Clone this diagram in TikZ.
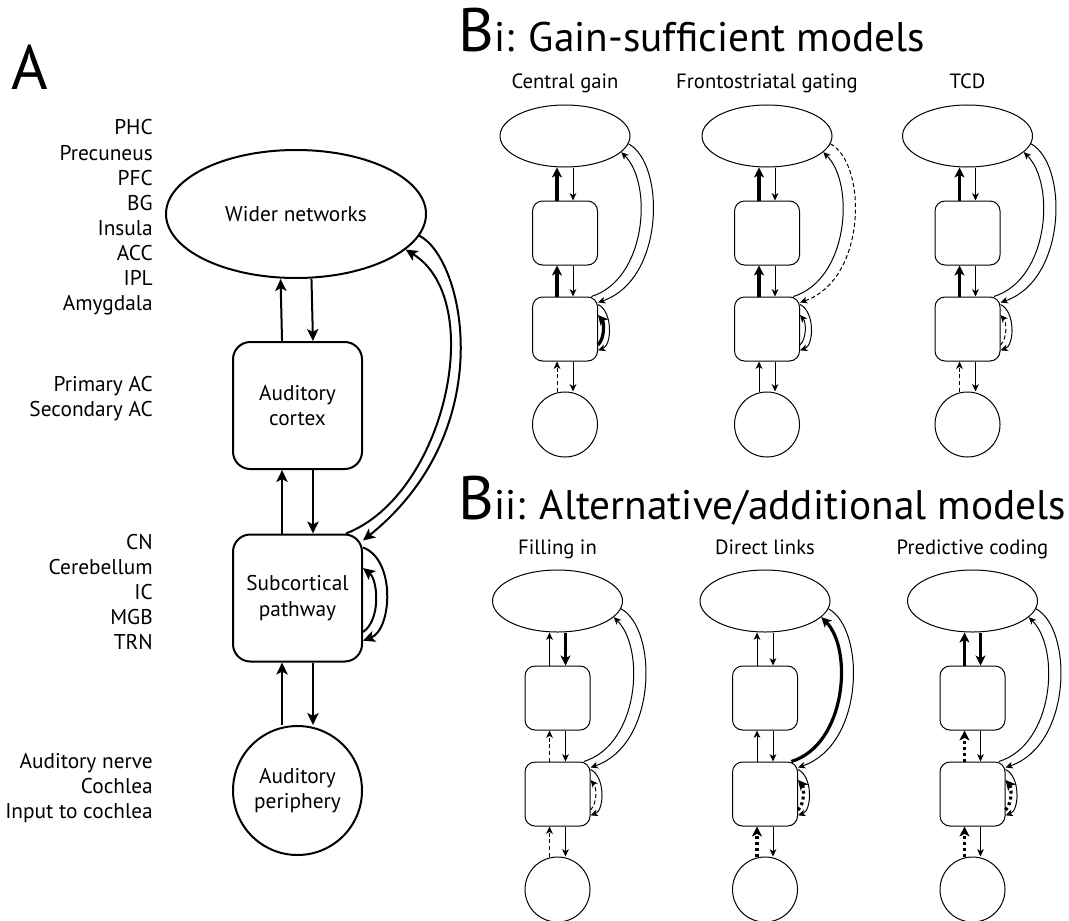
\documentclass[tikz,border=0pt]{standalone}
\usepackage{fontspec}
\setmainfont{PT Sans}
\usetikzlibrary{arrows.meta,shapes.geometric}
\newcommand{\bmodel}[4]{%
  \node[bell] (#1w) at (#2,#3) {};
  \node[bbox] (#1a) at (#2,#3+97) {};
  \node[bbox] (#1s) at (#2,#3+193) {};
  \node[bcirc] (#1p) at (#2,#3+288.5) {};
  \node[subt] (#1t) at (#2,#3-47) {#4};
  \draw[wUp] ([xshift=-6pt]#1a.north) -- ([xshift=-6pt]#1w.south);
  \draw[wDn] ([xshift=6pt]#1w.south) -- ([xshift=6pt]#1a.north);
  \draw[cUp] ([xshift=-6pt]#1s.north) -- ([xshift=-6pt]#1a.south);
  \draw[cDn] ([xshift=6pt]#1a.south) -- ([xshift=6pt]#1s.north);
  \draw[pUp] ([xshift=-6pt]#1p.north) -- ([xshift=-6pt]#1s.south);
  \draw[pDn] ([xshift=6pt]#1s.south) -- ([xshift=6pt]#1p.north);
  \draw[lIn] ([xshift=-5pt]#1s.north east) .. controls +(55,-17) and +(32,32) .. (#1w.-16);
  \draw[lOut] (#1w.-7) .. controls +(37,20) and +(67,-23) .. ([yshift=-4.5pt]#1s.north east);
  \draw[sOut] ([yshift=-6pt]#1s.north east) .. controls +(15,7) and +(14,-5) .. ([yshift=-16pt]#1s.east);
  \draw[sIn] ([yshift=-12pt]#1s.east) .. controls +(7,-7) and +(6,7) .. ([yshift=10.5pt]#1s.east);
}
\begin{document}
\begin{tikzpicture}[x=0.75pt,y=-0.75pt,
  aArr/.style={line width=1.5pt,-{Stealth[length=9pt,width=8.5pt,inset=2.2pt]}},
  anode/.style={draw,line width=1.5pt,inner sep=0pt,align=center,font=\fontsize{16}{19}\selectfont},
  aell/.style={anode,ellipse,minimum width=195pt,minimum height=96pt},
  abox/.style={anode,rectangle,rounded corners=13pt,minimum width=96.75pt,minimum height=95.25pt},
  acirc/.style={anode,circle,minimum size=96.75pt},
  lab/.style={inner sep=0pt,font=\fontsize{16}{19}\selectfont,anchor=base east},
  bnode/.style={draw,line width=0.75pt,inner sep=0pt},
  bell/.style={bnode,ellipse,minimum width=97.5pt,minimum height=46.5pt},
  bbox/.style={bnode,rectangle,rounded corners=7.5pt,minimum width=48.75pt,minimum height=48pt},
  bcirc/.style={bnode,circle,minimum size=48.75pt},
  subt/.style={inner sep=0pt,anchor=base,font=\fontsize{15.5}{18}\selectfont},
  btitle/.style={anchor=base west,inner sep=0pt},
  thinA/.style={line width=0.75pt,-{Stealth[length=5.5pt,width=5pt,inset=1.5pt]}},
  thickA/.style={line width=2.4pt,-{Stealth[length=7.5pt,width=7.5pt,inset=2pt]}},
  dashA/.style={thinA,dash pattern=on 3pt off 2pt},
  dotA/.style={thickA,dash pattern=on 2.2pt off 2.2pt},
  wUp/.style={thinA}, wDn/.style={thinA}, cUp/.style={thinA}, cDn/.style={thinA},
  pUp/.style={thinA}, pDn/.style={thinA}, lIn/.style={thinA}, lOut/.style={thinA},
  sOut/.style={thinA}, sIn/.style={thinA}
]
\fill[white] (0,0) rectangle (1069,920);
\useasboundingbox (0,0) rectangle (1069,920);

% ---------- Panel A ----------
\node[anchor=base west,inner sep=0pt] (tA) at (11,90) {\fontsize{47}{47}\selectfont A};
\node[aell] (wn) at (296,214) {Wider networks};
\node[abox] (ac) at (297.5,405.5) {Auditory\\cortex};
\node[abox] (sp) at (297.5,598) {Subcortical\\pathway};
\node[acirc] (ap) at (297.5,790.5) {Auditory\\periphery};

\foreach \t [count=\i] in {PHC,Precuneus,PFC,BG,Insula,ACC,IPL,Amygdala}
  \node[lab] (ga\i) at (153,110+25*\i) {\t};
\foreach \t [count=\i] in {Primary AC,Secondary AC}
  \node[lab] (gb\i) at (153,366.5+25*\i) {\t};
\foreach \t [count=\i] in {CN,Cerebellum,IC,MGB,TRN}
  \node[lab] (gc\i) at (153,524.5+25*\i) {\t};
\foreach \t [count=\i] in {Auditory nerve,Cochlea,Input to cochlea}
  \node[lab] (gd\i) at (153,743.5+25*\i) {\t};

\draw[aArr] ([xshift=-11.6pt]ac.north) -- ([xshift=-11.6pt]wn.south);
\draw[aArr] ([xshift=11.6pt]wn.south) -- ([xshift=11.6pt]ac.north);
\draw[aArr] ([xshift=-11.6pt]sp.north) -- ([xshift=-11.6pt]ac.south);
\draw[aArr] ([xshift=11.6pt]ac.south) -- ([xshift=11.6pt]sp.north);
\draw[aArr] ([xshift=-11.6pt]ap.north) -- ([xshift=-11.6pt]sp.south);
\draw[aArr] ([xshift=11.6pt]sp.south) -- ([xshift=11.6pt]ap.north);
\draw[aArr] ([xshift=-12.75pt]sp.north east) .. controls +(100,-39) and +(82,50) .. (wn.-18);
\draw[aArr] (wn.-10) .. controls +(45,23) and +(138,-111) .. ([yshift=-5.25pt]sp.north east);
\draw[aArr] ([yshift=-10.5pt]sp.north east) .. controls +(33,12) and +(29,-11) .. ([yshift=-32pt]sp.east);
\draw[aArr] ([yshift=-25.5pt]sp.east) .. controls +(18,-12) and +(15,12) .. ([yshift=22.5pt]sp.east);

% ---------- Panel Bi ----------
\node[btitle] (tBi) at (458,52)
  {{\fontsize{46}{46}\selectfont B}{\fontsize{31}{31}\selectfont i: Gain-sufficient models}};
\begin{scope}[wUp/.style={thickA},cUp/.style={thickA},pUp/.style={dashA},sIn/.style={thickA}]
  \bmodel{cg}{565}{136}{Central gain}
\end{scope}
\begin{scope}[wUp/.style={thickA},cUp/.style={thickA},lOut/.style={dashA}]
  \bmodel{fg}{767}{136}{Frontostriatal gating}
\end{scope}
\begin{scope}[wUp/.style={thickA},cUp/.style={thickA},pUp/.style={dashA},sIn/.style={dashA}]
  \bmodel{td}{967.5}{136}{TCD}
\end{scope}

% ---------- Panel Bii ----------
\node[btitle] (tBii) at (458,519)
  {{\fontsize{46}{46}\selectfont B}{\fontsize{31}{31}\selectfont ii: Alternative/additional models}};
\begin{scope}[wDn/.style={thickA},cUp/.style={dashA},pUp/.style={dashA},sIn/.style={dashA}]
  \bmodel{fi}{557.5}{601}{Filling in}
\end{scope}
\begin{scope}[pUp/.style={dotA},lIn/.style={thickA},sIn/.style={dotA}]
  \bmodel{dl}{765}{601}{Direct links}
\end{scope}
\begin{scope}[wUp/.style={thickA},wDn/.style={thickA},cUp/.style={dotA},pUp/.style={dotA},sIn/.style={dotA}]
  \bmodel{pc}{972.5}{601}{Predictive coding}
\end{scope}
\end{tikzpicture}
\end{document}
